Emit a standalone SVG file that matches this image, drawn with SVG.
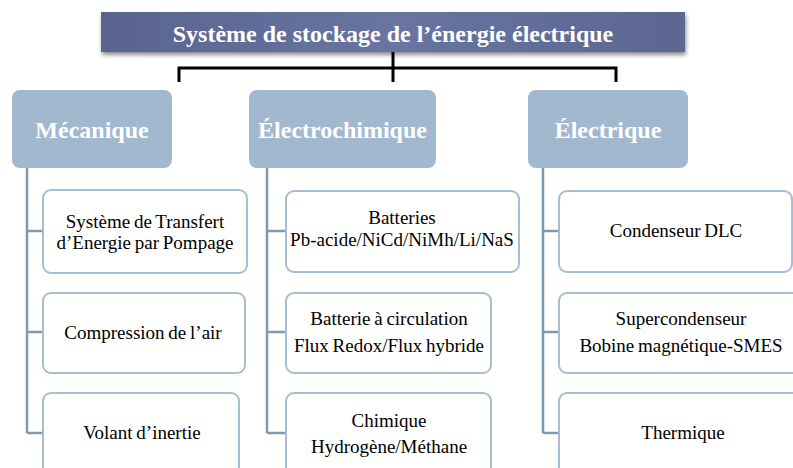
<svg xmlns="http://www.w3.org/2000/svg" width="793" height="468" viewBox="0 0 793 468">
<defs>
<linearGradient id="tg" x1="0" y1="0" x2="1" y2="0">
<stop offset="0" stop-color="#59648f"/>
<stop offset="0.5" stop-color="#6874a0"/>
<stop offset="1" stop-color="#5b6791"/>
</linearGradient>
<filter id="sh" x="-5%" y="-20%" width="110%" height="160%">
<feGaussianBlur in="SourceAlpha" stdDeviation="2"/>
<feOffset dx="1" dy="3"/>
<feComponentTransfer><feFuncA type="linear" slope="0.45"/></feComponentTransfer>
<feMerge><feMergeNode/><feMergeNode in="SourceGraphic"/></feMerge>
</filter>
</defs>
<style>
text{font-family:"Liberation Serif","Times New Roman","DejaVu Serif",serif;}
.cat{fill:#a2b8ce;}
.cattxt{font-weight:bold;font-size:24px;fill:#ffffff;text-anchor:middle;}
.leaf{fill:#ffffff;stroke:#a6bdd3;stroke-width:2;}
.lt{font-size:19px;fill:#000000;text-anchor:middle;word-spacing:-1px;}
.conn{fill:none;stroke:#8198ad;stroke-width:2.5;}
.br{fill:none;stroke:#000000;stroke-width:3;}
</style>
<rect width="793" height="468" fill="#ffffff"/>
<g id="title">
<rect x="101" y="12" width="584" height="40" fill="url(#tg)" filter="url(#sh)"/>
<text x="393" y="42" font-weight="bold" font-size="24" fill="#ffffff" text-anchor="middle">Système de stockage de l’énergie électrique</text>
</g>
<g id="connectors">
<path class="br" d="M393 52 V82 M179 82 V68 H616 V82"/>
<path class="conn" d="M27 168 V433 M27 231 H43 M27 332 H43 M27 433 H43"/>
<path class="conn" d="M267 168 V433 M267 231 H286 M267 332 H286 M267 433 H286"/>
<path class="conn" d="M543 168 V433 M543 231 H559 M543 332 H559 M543 433 H559"/>
</g>
<g id="cat-mecanique">
<rect class="cat" x="12" y="90" width="160" height="78" rx="8"/>
<text class="cattxt" x="92" y="138">Mécanique</text>
</g>
<g id="cat-electrochimique">
<rect class="cat" x="249" y="90" width="187" height="78" rx="8"/>
<text class="cattxt" x="342.5" y="138">Électrochimique</text>
</g>
<g id="cat-electrique">
<rect class="cat" x="528" y="90" width="160" height="78" rx="8"/>
<text class="cattxt" x="608" y="138">Électrique</text>
</g>
<g id="stpe">
<rect class="leaf" x="43" y="190" width="204" height="83" rx="8"/>
<text class="lt" x="145" y="228">Système de Transfert</text>
<text class="lt" x="145" y="249">d’Energie par Pompage</text>
</g>
<g id="air">
<rect class="leaf" x="43" y="293" width="202" height="80" rx="8"/>
<text class="lt" x="143" y="339">Compression de l’air</text>
</g>
<g id="volant">
<rect class="leaf" x="43" y="393" width="196" height="90" rx="8"/>
<text class="lt" x="142" y="439">Volant d’inertie</text>
</g>
<g id="batteries">
<rect class="leaf" x="286" y="191" width="233" height="81" rx="8"/>
<text class="lt" x="402" y="224">Batteries</text>
<text class="lt" x="402" y="246">Pb-acide/NiCd/NiMh/Li/NaS</text>
</g>
<g id="circulation">
<rect class="leaf" x="286" y="293" width="205" height="80" rx="8"/>
<text class="lt" x="389" y="325">Batterie à circulation</text>
<text class="lt" x="389" y="352">Flux Redox/Flux hybride</text>
</g>
<g id="chimique">
<rect class="leaf" x="286" y="393" width="205" height="90" rx="8"/>
<text class="lt" x="389" y="427">Chimique</text>
<text class="lt" x="389" y="453">Hydrogène/Méthane</text>
</g>
<g id="dlc">
<rect class="leaf" x="559" y="191" width="233" height="81" rx="8"/>
<text class="lt" x="676" y="237">Condenseur DLC</text>
</g>
<g id="super">
<rect class="leaf" x="559" y="293" width="245" height="80" rx="8"/>
<text class="lt" x="681" y="325">Supercondenseur</text>
<text class="lt" x="681" y="352">Bobine magnétique-SMES</text>
</g>
<g id="thermique">
<rect class="leaf" x="559" y="393" width="245" height="90" rx="8"/>
<text class="lt" x="683" y="439">Thermique</text>
</g>
</svg>
